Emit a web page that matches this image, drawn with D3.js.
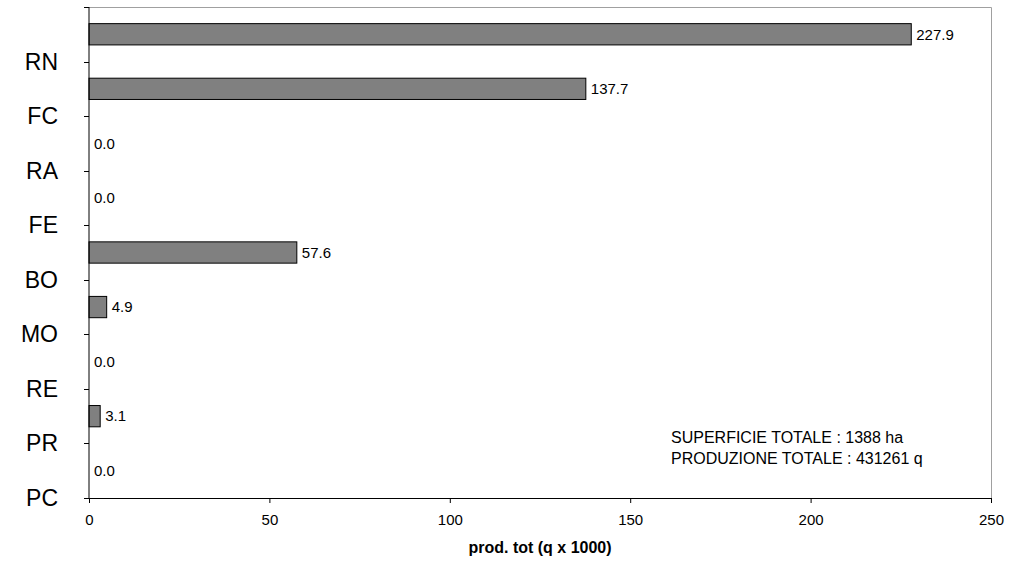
<!DOCTYPE html>
<html>
<head>
<meta charset="utf-8">
<script src="https://cdn.jsdelivr.net/npm/d3@7"></script>
<style>
  html, body { margin: 0; padding: 0; background: #fff; }
  svg { display: block; font-family: "Liberation Sans", Arial, sans-serif; }
</style>
</head>
<body>
<svg id="chart" width="1026" height="563"></svg>
<script>
// Province codes and total production (thousand quintals)
const provinces = ["RN", "FC", "RA", "FE", "BO", "MO", "RE", "PR", "PC"];
const production = [227.9, 137.7, 0.0, 0.0, 57.6, 4.9, 0.0, 3.1, 0.0];
const xTicks = [0, 50, 100, 150, 200, 250];
const notes = ["SUPERFICIE TOTALE : 1388 ha", "PRODUZIONE TOTALE : 431261 q"];
const xTitle = "prod. tot (q x 1000)";

const margin = { left: 89, right: 35, top: 7, bottom: 65 };
const W = 1026, H = 563;
const svg = d3.select("#chart");

const x = d3.scaleLinear().domain([0, 250]).range([margin.left, W - margin.right]);
const y = d3.scaleBand().domain(provinces).range([margin.top, H - margin.bottom]).paddingInner(0).paddingOuter(0);
const barH = y.step() * 0.39;

// plot frame (top and right edges)
svg.append("path")
  .attr("d", `M${x(0)},${margin.top + 0.5}H${x(250) + 0.5}V${H - margin.bottom}`)
  .attr("fill", "none").attr("stroke", "#a0a0a0").attr("stroke-width", 1);

// bars
svg.append("g").selectAll("rect").data(provinces).join("rect")
  .attr("x", x(0))
  .attr("y", (d) => y(d) + (y.step() - barH) / 2)
  .attr("width", (d, i) => x(production[i]) - x(0))
  .attr("height", barH)
  .attr("fill", "#808080")
  .attr("stroke", "#000").attr("stroke-width", 1)
  .attr("display", (d, i) => production[i] > 0 ? null : "none");

// value labels
svg.append("g").selectAll("text").data(provinces).join("text")
  .attr("x", (d, i) => x(production[i]) + 5)
  .attr("y", (d) => y(d) + y.step() / 2)
  .attr("dy", "0.35em")
  .attr("font-size", 15)
  .attr("fill", "#000")
  .text((d, i) => production[i].toFixed(1));

// x axis
const xAxis = svg.append("g")
  .attr("transform", `translate(0,${H - margin.bottom})`)
  .call(d3.axisBottom(x).tickValues(xTicks).tickSize(5).tickPadding(11).tickFormat(d3.format("d")));
xAxis.select(".domain").attr("stroke", "#000");
xAxis.selectAll("text").attr("font-size", 15).attr("font-family", "Liberation Sans, Arial, sans-serif").attr("fill", "#000");

// y axis: ticks at band boundaries, category labels at the lower edge of each band
const yAxis = svg.append("g");
yAxis.append("line")
  .attr("x1", x(0)).attr("x2", x(0))
  .attr("y1", margin.top).attr("y2", H - margin.bottom)
  .attr("stroke", "#000");
const boundaries = [margin.top].concat(provinces.map((d) => y(d) + y.step()));
yAxis.selectAll(".tk").data(boundaries).join("line")
  .attr("class", "tk")
  .attr("x1", x(0) - 5).attr("x2", x(0))
  .attr("y1", (d) => Math.round(d) + 0.5).attr("y2", (d) => Math.round(d) + 0.5)
  .attr("stroke", "#000");
yAxis.selectAll(".lbl").data(provinces).join("text")
  .attr("class", "lbl")
  .attr("x", 58)
  .attr("y", (d) => y(d) + y.step())
  .attr("dy", "0.35em")
  .attr("text-anchor", "end")
  .attr("font-size", 23)
  .attr("fill", "#000")
  .text((d) => d);

// axis title
svg.append("text")
  .attr("x", (x(0) + x(250)) / 2)
  .attr("y", 553)
  .attr("text-anchor", "middle")
  .attr("font-size", 16)
  .attr("font-weight", "bold")
  .text(xTitle);

// totals note
svg.append("g").selectAll("text").data(notes).join("text")
  .attr("x", 671)
  .attr("y", (d, i) => 443 + i * 21)
  .attr("font-size", 16)
  .text((d) => d);
</script>
</body>
</html>
